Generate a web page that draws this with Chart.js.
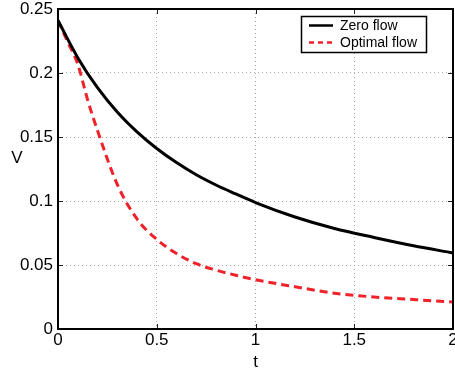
<!DOCTYPE html>
<html>
<head>
<meta charset="utf-8">
<script src="https://cdn.jsdelivr.net/npm/chart.js@4"></script>
<style>
html,body{margin:0;padding:0;background:#fff}
#wrap{width:455px;height:373px}
</style>
</head>
<body>
<div id="wrap"><canvas id="chart" width="455" height="373"></canvas></div>
<script>
// values
const tZero = [0, 0.1, 0.2, 0.3, 0.4, 0.5, 0.6, 0.7, 0.8, 0.9, 1.0, 1.2, 1.4, 1.6, 1.8, 2.0]
const vZero = [0.241, 0.212, 0.1885, 0.1695, 0.154, 0.141, 0.130, 0.1205, 0.1125, 0.1055, 0.0988, 0.0875, 0.0785, 0.0715, 0.065, 0.0594]
const tOpt = [0, 0.05, 0.1, 0.15, 0.2, 0.3, 0.4, 0.5, 0.6, 0.7, 0.8, 0.9, 1.0, 1.2, 1.4, 1.6, 1.8, 2.0]
const vOpt = [0.241, 0.224, 0.207, 0.179, 0.155, 0.113, 0.086, 0.070, 0.059, 0.051, 0.046, 0.042, 0.0385, 0.033, 0.028, 0.025, 0.023, 0.021]
const xTicks = [0, 0.5, 1, 1.5, 2]
const yTicks = [0, 0.05, 0.1, 0.15, 0.2, 0.25]
const names = ["Zero flow", "Optimal flow"]

const FONT = "'Liberation Sans', Arial, Helvetica, sans-serif"
const RED = '#ef2229'

const toPts = (xs, ys) => xs.map((x, i) => ({x: x, y: ys[i]}))

// frame, inner tick marks, "V" label and legend box
const extras = {
  id: 'extras',
  afterDatasetsDraw(chart) {
    const {ctx, chartArea: a, scales} = chart
    ctx.save()
    ctx.strokeStyle = '#222'
    ctx.lineWidth = 1
    ctx.beginPath()
    xTicks.forEach(v => {
      const px = Math.round(scales.x.getPixelForValue(v)) + 0.5
      ctx.moveTo(px, a.bottom); ctx.lineTo(px, a.bottom - 5)
      ctx.moveTo(px, a.top); ctx.lineTo(px, a.top + 5)
    })
    yTicks.forEach(v => {
      const py = Math.round(scales.y.getPixelForValue(v)) + 0.5
      ctx.moveTo(a.left, py); ctx.lineTo(a.left + 5, py)
      ctx.moveTo(a.right, py); ctx.lineTo(a.right - 5, py)
    })
    ctx.stroke()
    ctx.strokeStyle = '#000'
    ctx.lineWidth = 2
    ctx.strokeRect(a.left, a.top, a.right - a.left, a.bottom - a.top)

    ctx.fillStyle = '#000'
    ctx.font = '17px ' + FONT
    ctx.textAlign = 'center'
    ctx.textBaseline = 'middle'
    ctx.fillText('V', 17, 158)

    // legend
    const bx = 301.5, by = 16.5, bw = 125, bh = 36
    ctx.fillStyle = '#fff'
    ctx.fillRect(bx, by, bw, bh)
    ctx.lineWidth = 1.5
    ctx.strokeStyle = '#000'
    ctx.strokeRect(bx, by, bw, bh)
    const rows = [{c: '#000', d: []}, {c: RED, d: [5, 4]}]
    rows.forEach((r, i) => {
      const y = by + 9 + i * 17
      ctx.beginPath()
      ctx.lineWidth = 2.5
      ctx.strokeStyle = r.c
      ctx.setLineDash(r.d)
      ctx.moveTo(309, y); ctx.lineTo(333, y)
      ctx.stroke()
      ctx.setLineDash([])
      ctx.fillStyle = '#000'
      ctx.font = '14px ' + FONT
      ctx.textAlign = 'left'
      ctx.fillText(names[i], 340, y + 0.5)
    })
    ctx.restore()
  }
}

const ctx = document.getElementById('chart')
const config = {
  type: 'scatter',
  data: {
    datasets: [{
      label: names[0],
      data: toPts(tZero, vZero),
      showLine: true,
      borderColor: '#000',
      borderWidth: 3,
      pointRadius: 0,
      cubicInterpolationMode: 'monotone'
    }, {
      label: names[1],
      data: toPts(tOpt, vOpt),
      showLine: true,
      borderColor: RED,
      borderWidth: 3,
      borderDash: [8, 5],
      pointRadius: 0,
      cubicInterpolationMode: 'monotone'
    }]
  },
  options: {
    responsive: false,
    animation: false,
    devicePixelRatio: 1,
    layout: {padding: {top: 9, right: 2, left: 0, bottom: 0}},
    plugins: {legend: {display: false}, tooltip: {enabled: false}},
    scales: {
      x: {
        type: 'linear', min: 0, max: 2,
        afterBuildTicks: s => { s.ticks = xTicks.map(v => ({value: v})) },
        afterFit: s => { s.height = 44; s.paddingLeft = 0; s.paddingRight = 0 },
        ticks: {
          padding: 1, color: '#000',
          font: {family: FONT, size: 17},
          callback: v => String(v)
        },
        grid: {color: '#a8a8a8', drawTicks: false, lineWidth: 1},
        border: {display: false, dash: [1, 3]},
        title: {display: true, text: 't', color: '#000', font: {family: FONT, size: 17}, padding: {top: 0, bottom: 0}}
      },
      y: {
        type: 'linear', min: 0, max: 0.25,
        afterBuildTicks: s => { s.ticks = yTicks.map(v => ({value: v})) },
        afterFit: s => { s.width = 58; s.paddingTop = 0; s.paddingBottom = 0 },
        ticks: {
          padding: 5, color: '#000',
          font: {family: FONT, size: 17},
          callback: v => String(Number(v.toFixed(2)))
        },
        grid: {color: '#a8a8a8', drawTicks: false, lineWidth: 1},
        border: {display: false, dash: [1, 3]}
      }
    }
  },
  plugins: [extras]
}
new Chart(ctx, config)
</script>
</body>
</html>
